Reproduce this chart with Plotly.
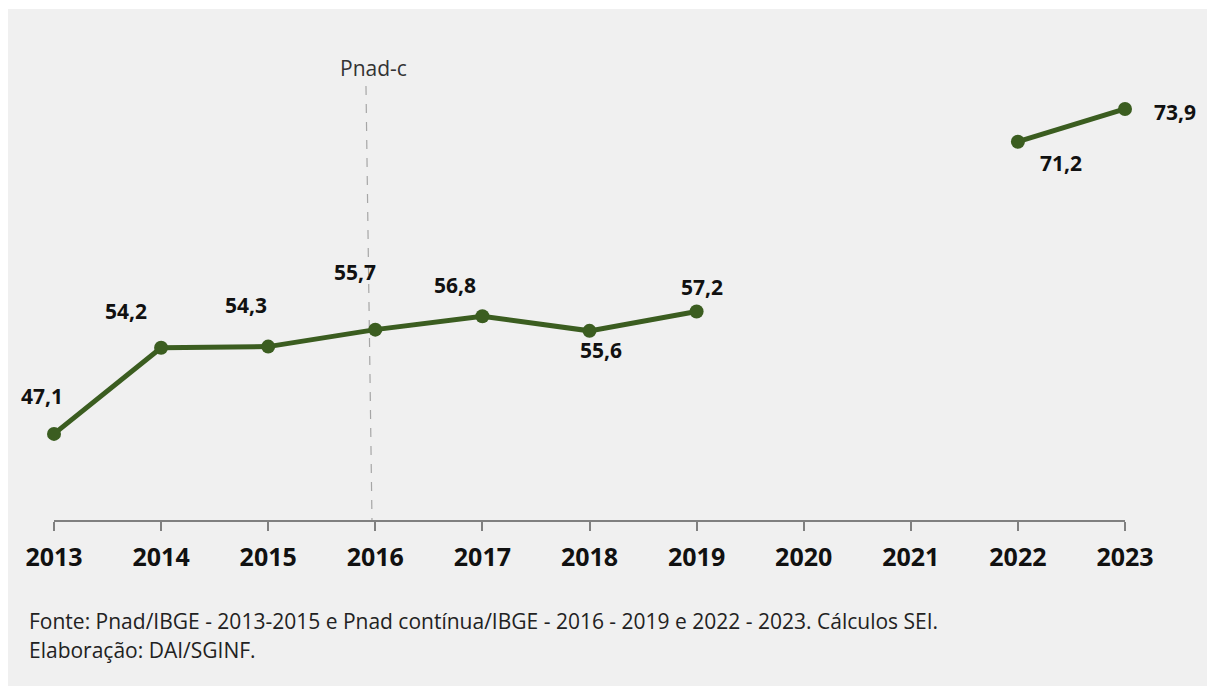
import plotly.graph_objects as go

# Anos e taxa (%) — 2020 e 2021 sem dado
anos = [2013, 2014, 2015, 2016, 2017, 2018, 2019, 2020, 2021, 2022, 2023]
taxa = [47.1, 54.2, 54.3, 55.7, 56.8, 55.6, 57.2, None, None, 71.2, 73.9]
rotulos_eixo = [str(a) for a in anos]

# deslocamento (px) de cada rótulo de valor em relação ao ponto
desloc_x = [-12, -35, -22, -20, -27, 11, 5, 0, 0, 43, 50]
desloc_y = [38, 37, 42, 58, 31, -19, 24, 0, 0, -21, -3]

fonte_txt = "Fonte: Pnad/IBGE - 2013-2015 e Pnad contínua/IBGE - 2016 - 2019 e 2022 - 2023. Cálculos SEI."
elab_txt = "Elaboração: DAI/SGINF."

verde = "#3b5d20"
FONT = "Open Sans"

fig = go.Figure()
fig.add_trace(go.Scatter(
    x=anos, y=taxa, mode="lines+markers",
    line=dict(color=verde, width=5),
    marker=dict(color=verde, size=14),
    connectgaps=False, hoverinfo="skip", showlegend=False, cliponaxis=False,
))

anns = []
for a, v, dx, dy in zip(anos, taxa, desloc_x, desloc_y):
    if v is None:
        continue
    anns.append(dict(
        x=a, y=v, text=f"{v:.1f}".replace(".", ","), showarrow=False,
        xshift=dx, yshift=dy,
        font=dict(family=FONT, size=21, color="#111111", weight="bold"),
    ))

# marcador da mudança de pesquisa (Pnad -> Pnad contínua)
anns.append(dict(x=2015.98, y=77.3, text="Pnad-c", showarrow=False,
                 font=dict(family=FONT, size=21, color="#333333")))
anns.append(dict(x=-0.0252, y=-0.208, xref="paper", yref="paper", text=fonte_txt,
                 showarrow=False, xanchor="left", yanchor="middle",
                 font=dict(family=FONT, size=21, color="#222222")))
anns.append(dict(x=-0.0252, y=-0.268, xref="paper", yref="paper", text=elab_txt,
                 showarrow=False, xanchor="left", yanchor="middle",
                 font=dict(family=FONT, size=21, color="#222222")))

shapes = [
    # fundo cinza do gráfico
    dict(type="rect", xref="paper", yref="paper", x0=-0.043, x1=1.1, y0=-0.5, y1=1.0536,
         fillcolor="#f0f0f0", line=dict(width=0), layer="below"),
    dict(type="line", xref="x", yref="y", x0=2015.913, x1=2015.969, y0=75.8, y1=40,
         line=dict(color="#a6a6a6", width=1.2, dash="dash"), layer="below"),
]

fig.update_layout(
    width=1207, height=686,
    margin=dict(l=54, r=82, t=35, b=166),
    paper_bgcolor="white", plot_bgcolor="rgba(0,0,0,0)",
    annotations=anns, shapes=shapes,
    xaxis=dict(range=[2013, 2023], tickvals=anos, ticktext=rotulos_eixo,
               showgrid=False, zeroline=False, showline=True, linecolor="#808080",
               linewidth=2, ticks="outside", ticklen=9, tickwidth=2, tickcolor="#808080",
               ticklabelstandoff=5,
               tickfont=dict(family=FONT, size=25, color="#111111", weight="bold")),
    yaxis=dict(range=[40, 80], visible=False, showgrid=False, zeroline=False),
)

fig.write_html("out.html")
